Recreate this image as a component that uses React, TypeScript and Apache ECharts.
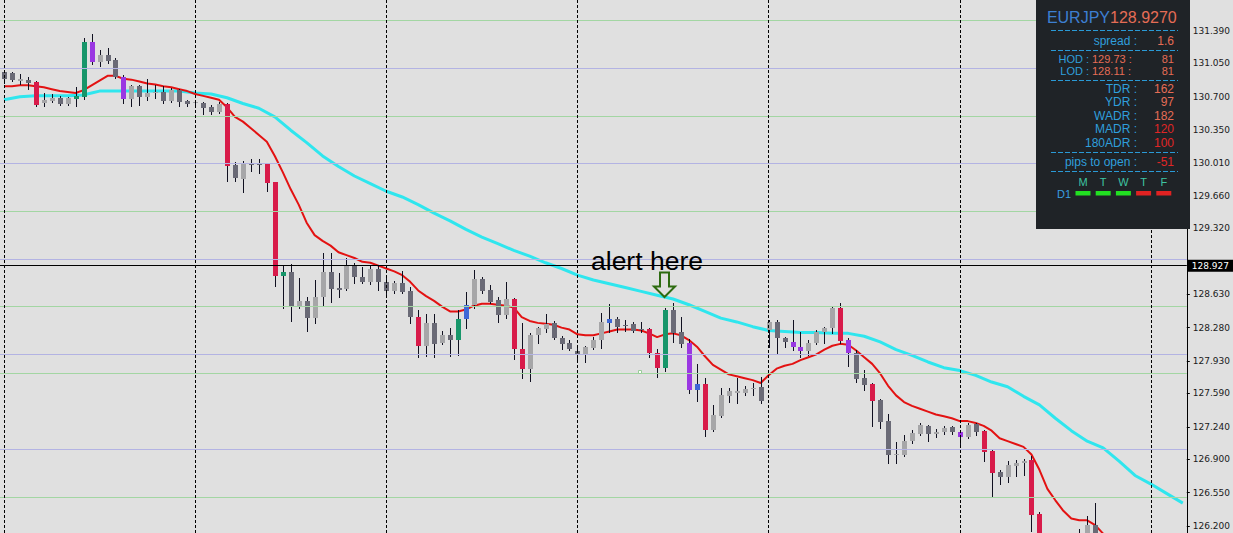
import React, { useEffect, useRef } from "react";
import * as echarts from "echarts";

// ---- data ----
// [open, close, low, high] for each H1 bar
const ohlc: number[][] = [
  [130.96, 130.89, 130.85, 130.98], [130.95, 130.88, 130.87, 130.96], [130.87, 130.89, 130.83, 130.94], [130.88, 130.85, 130.78, 130.91],
  [130.86, 130.61, 130.60, 130.87], [130.64, 130.67, 130.60, 130.74], [130.66, 130.69, 130.65, 130.73], [130.69, 130.62, 130.61, 130.71],
  [130.62, 130.69, 130.61, 130.70], [130.68, 130.71, 130.60, 130.80], [130.70, 131.27, 130.68, 131.32], [131.27, 131.07, 131.04, 131.36],
  [131.06, 131.14, 131.02, 131.19], [131.14, 131.08, 131.05, 131.21], [131.09, 130.91, 130.90, 131.11], [130.91, 130.68, 130.63, 130.93],
  [130.68, 130.81, 130.60, 130.82], [130.81, 130.70, 130.61, 130.82], [130.70, 130.74, 130.67, 130.89], [130.74, 130.75, 130.69, 130.82],
  [130.75, 130.66, 130.64, 130.81], [130.66, 130.77, 130.65, 130.79], [130.77, 130.65, 130.60, 130.78], [130.66, 130.62, 130.60, 130.67],
  [130.64, 130.65, 130.60, 130.67], [130.64, 130.58, 130.52, 130.65], [130.59, 130.54, 130.52, 130.61], [130.54, 130.62, 130.53, 130.65],
  [130.62, 129.97, 129.82, 130.64], [129.99, 129.85, 129.82, 130.02], [129.84, 130.01, 129.70, 130.03], [130.00, 129.99, 129.92, 130.05],
  [130.01, 129.99, 129.90, 130.05], [130.00, 129.80, 129.71, 130.01], [129.81, 128.82, 128.72, 129.81], [128.82, 128.86, 128.49, 128.94],
  [128.86, 128.51, 128.35, 128.95], [128.51, 128.56, 128.49, 128.80], [128.56, 128.38, 128.24, 128.60], [128.38, 128.60, 128.33, 128.78],
  [128.60, 128.86, 128.51, 129.06], [128.86, 128.69, 128.55, 129.06], [128.70, 128.67, 128.60, 128.85], [128.69, 128.93, 128.67, 129.01],
  [128.93, 128.81, 128.75, 128.96], [128.81, 128.76, 128.75, 128.92], [128.76, 128.90, 128.74, 128.94], [128.90, 128.76, 128.67, 128.94],
  [128.76, 128.66, 128.60, 128.81], [128.66, 128.75, 128.64, 128.77], [128.75, 128.65, 128.64, 128.87], [128.66, 128.39, 128.33, 128.71],
  [128.39, 128.09, 127.97, 128.47], [128.09, 128.33, 127.98, 128.42], [128.33, 128.11, 127.97, 128.42], [128.12, 128.20, 128.11, 128.24],
  [128.20, 128.15, 127.98, 128.28], [128.15, 128.37, 127.99, 128.47], [128.37, 128.52, 128.28, 128.65], [128.52, 128.79, 128.49, 128.88],
  [128.79, 128.66, 128.64, 128.81], [128.67, 128.55, 128.54, 128.73], [128.57, 128.41, 128.34, 128.60], [128.41, 128.58, 128.38, 128.76],
  [128.58, 128.06, 127.95, 128.59], [128.06, 127.85, 127.75, 128.33], [127.85, 128.20, 127.72, 128.22], [128.20, 128.28, 128.12, 128.29],
  [128.27, 128.32, 128.23, 128.42], [128.33, 128.17, 128.16, 128.35], [128.17, 128.11, 128.06, 128.19], [128.12, 128.06, 128.05, 128.15],
  [128.03, 128.00, 127.94, 128.08], [128.00, 128.08, 127.92, 128.09], [128.07, 128.15, 128.06, 128.18], [128.15, 128.34, 128.07, 128.43],
  [128.33, 128.37, 128.23, 128.53], [128.37, 128.29, 128.23, 128.39], [128.31, 128.30, 128.25, 128.36], [128.32, 128.25, 128.23, 128.34],
  [128.27, 128.26, 128.23, 128.34], [128.27, 128.01, 127.97, 128.28], [128.01, 127.86, 127.76, 128.06], [127.86, 128.47, 127.83, 128.49],
  [128.47, 128.22, 128.13, 128.54], [128.23, 128.11, 128.08, 128.39], [128.12, 127.63, 127.60, 128.16], [127.63, 127.69, 127.51, 127.90],
  [127.69, 127.21, 127.14, 127.75], [127.21, 127.36, 127.20, 127.47], [127.35, 127.57, 127.34, 127.65], [127.56, 127.62, 127.50, 127.65],
  [127.60, 127.62, 127.49, 127.75], [127.59, 127.64, 127.57, 127.67], [127.64, 127.65, 127.57, 127.70], [127.66, 127.51, 127.49, 127.76],
  [128.26, 128.34, 128.08, 128.36], [128.34, 128.17, 128.01, 128.36], [128.17, 128.13, 128.08, 128.18], [128.13, 128.08, 128.05, 128.36],
  [128.08, 128.03, 127.97, 128.23], [128.03, 128.12, 127.99, 128.15], [128.12, 128.23, 128.11, 128.26], [128.23, 128.28, 128.12, 128.29],
  [128.28, 128.49, 128.22, 128.50], [128.49, 128.14, 128.12, 128.54], [128.15, 128.01, 127.88, 128.17], [128.01, 127.74, 127.71, 128.05],
  [127.75, 127.68, 127.63, 127.84], [127.69, 127.51, 127.25, 127.70], [127.52, 127.29, 127.23, 127.53], [127.30, 126.94, 126.86, 127.37],
  [126.95, 126.96, 126.86, 127.08], [126.94, 127.09, 126.93, 127.15], [127.09, 127.18, 127.07, 127.21], [127.17, 127.26, 127.15, 127.28],
  [127.25, 127.17, 127.09, 127.26], [127.17, 127.19, 127.13, 127.22], [127.19, 127.23, 127.17, 127.25], [127.24, 127.19, 127.17, 127.25],
  [127.19, 127.13, 127.03, 127.21], [127.13, 127.26, 127.12, 127.28], [127.27, 127.19, 127.15, 127.28], [127.20, 126.98, 126.88, 127.21],
  [126.99, 126.76, 126.50, 127.01], [126.77, 126.71, 126.64, 126.79], [126.71, 126.84, 126.66, 126.88], [126.83, 126.86, 126.72, 126.89],
  [126.86, 126.88, 126.73, 126.90], [126.89, 126.32, 126.15, 126.93], [126.33, 125.84, 125.80, 126.35], [125.84, 125.90, 125.75, 125.98],
  [125.90, 125.86, 125.78, 126.00], [125.86, 125.93, 125.80, 126.05], [125.93, 125.98, 125.85, 126.08], [125.98, 126.06, 125.95, 126.17],
  [126.06, 126.21, 126.00, 126.30], [126.21, 126.05, 126.00, 126.44],
];

// bar indices highlighted in special colours
const crimsonBars = [4, 28, 33, 34, 52, 64, 65, 81, 82, 88, 105, 109, 123, 124, 129, 130];
const greenBars = [9, 10, 35, 57, 83];
const purpleBars = [11, 15, 86, 99, 100, 106, 120];
const blueBars = [58, 76, 87];

// fast moving average (red), one value per bar
const redMA = [
  130.81, 130.81, 130.82, 130.82, 130.81, 130.80, 130.78, 130.76, 130.75, 130.74, 130.77, 130.82, 130.87, 130.92, 130.92, 130.89,
  130.88, 130.86, 130.84, 130.83, 130.81, 130.80, 130.78, 130.76, 130.73, 130.71, 130.69, 130.67, 130.59, 130.49, 130.44, 130.37,
  130.30, 130.23, 130.08, 129.91, 129.73, 129.57, 129.38, 129.25, 129.19, 129.14, 129.07, 129.04, 129.01, 128.97, 128.96, 128.93,
  128.90, 128.87, 128.83, 128.76, 128.67, 128.61, 128.56, 128.50, 128.45, 128.45, 128.47, 128.51, 128.53, 128.53, 128.52, 128.51,
  128.49, 128.39, 128.35, 128.33, 128.32, 128.31, 128.28, 128.26, 128.21, 128.20, 128.20, 128.22, 128.24, 128.26, 128.26, 128.26,
  128.25, 128.22, 128.18, 128.21, 128.22, 128.20, 128.15, 128.08, 127.98, 127.89, 127.84, 127.79, 127.77, 127.75, 127.73, 127.70,
  127.78, 127.85, 127.88, 127.90, 127.94, 127.97, 128.00, 128.05, 128.09, 128.11, 128.10, 128.04, 127.97, 127.90, 127.80, 127.67,
  127.57, 127.50, 127.46, 127.43, 127.40, 127.37, 127.35, 127.33, 127.30, 127.30, 127.28, 127.25, 127.20, 127.12, 127.09, 127.06,
  127.03, 126.95, 126.79, 126.59, 126.47, 126.36, 126.28, 126.26, 126.26, 126.21, 126.12,
];

// slow, forward-shifted moving average (cyan): [bar index, price]
const cyanMA = [
  [0, 130.67], [2, 130.70], [4, 130.71], [6, 130.71], [8, 130.71], [10, 130.72], [11, 130.74], [12, 130.76], [14, 130.76],
  [16, 130.76], [18, 130.76], [20, 130.76], [22, 130.76], [24, 130.74], [26, 130.73], [28, 130.69], [30, 130.63], [32, 130.58],
  [34, 130.49], [36, 130.35], [38, 130.22], [40, 130.08], [42, 129.97], [44, 129.87], [46, 129.79], [48, 129.71], [50, 129.65],
  [52, 129.57], [54, 129.48], [56, 129.40], [58, 129.31], [60, 129.23], [62, 129.16], [64, 129.09], [66, 129.03], [68, 128.96],
  [70, 128.90], [72, 128.83], [74, 128.78], [76, 128.74], [78, 128.70], [80, 128.66], [82, 128.62], [84, 128.58], [86, 128.52],
  [88, 128.45], [90, 128.38], [92, 128.34], [94, 128.29], [96, 128.25], [98, 128.24], [100, 128.23], [102, 128.23], [104, 128.22],
  [106, 128.22], [108, 128.19], [110, 128.13], [112, 128.05], [114, 127.99], [116, 127.92], [118, 127.86], [120, 127.83], [122, 127.78],
  [124, 127.71], [126, 127.66], [128, 127.56], [130, 127.47], [132, 127.33], [134, 127.20], [136, 127.09], [138, 127.02], [140, 126.88],
  [142, 126.73], [144, 126.64], [146, 126.54], [148, 126.44],
];

const barCount = 149;
const categories = Array.from({ length: barCount }, (_, i) => `bar${i}`);
const daySeparators = [0, 24, 48, 72, 96, 120, 144];
const greenLevels = [131.5, 130.5, 129.5, 128.5, 127.8, 126.5];
const lavenderLevels = [131.0, 130.0, 129.0, 128.0, 127.0];
const yTicks = [126.2, 126.55, 126.9, 127.24, 127.59, 127.93, 128.28, 128.63, 129.32, 129.66, 130.01, 130.35, 130.7, 131.05, 131.39];
const currentPrice = 128.927;

// info panel
const symbolName = "EURJPY";
const bidText = "128.9270";
const spreadValue = "1.6";
const hodLod = [["HOD :", "129.73 :", "81"], ["LOD :", "128.11 :", "81"]];
const rangeLabels = ["TDR :", "YDR :", "WADR :", "MADR :", "180ADR :"];
const rangeValues = ["162", "97", "182", "120", "100"];
const rangeHot = [false, false, false, true, true];
const pipsToOpen = "-51";
const weekDays = ["M", "T", "W", "T", "F"];
const weekUp = [true, true, true, false, false];

const CRIMSON = "#d81b4a";
const GREEN = "#17966a";
const PURPLE = "#9a37e2";
const BLUE = "#3f68d6";
const LIGHT = "#a6a6a8";
const DARK = "#6a6a76";
const WICK = "#101020";

function barColor(i: number, o: number, c: number) {
  if (crimsonBars.includes(i)) return CRIMSON;
  if (greenBars.includes(i)) return GREEN;
  if (purpleBars.includes(i)) return PURPLE;
  if (blueBars.includes(i)) return BLUE;
  return c >= o ? LIGHT : DARK;
}

export default function App() {
  const ref = useRef<HTMLDivElement>(null);
  useEffect(() => {
    document.body.style.margin = "0";
    const chart = echarts.init(ref.current!, null, { renderer: "svg" });

    const PANEL_BLUE = "#2f9fdc";
    const CORAL = "#e56d56";
    const HOT = "#e02626";
    const font12 = "12px 'Liberation Sans', Arial, sans-serif";
    const font11 = "11px 'Liberation Sans', Arial, sans-serif";

    const panel: any[] = [
      { type: "rect", shape: { x: 1036, y: 0, width: 154, height: 229 }, style: { fill: "#1f2327" } },
      { type: "text", style: { text: symbolName, x: 1110, y: 17, align: "right", verticalAlign: "middle", fill: "#3d7fd2", font: "16px 'Liberation Sans', Arial, sans-serif" } },
      { type: "text", style: { text: bidText, x: 1110, y: 17, align: "left", verticalAlign: "middle", fill: CORAL, font: "16px 'Liberation Sans', Arial, sans-serif" } },
    ];
    [30.5, 50.5, 80.5, 152.5, 171.5].forEach((y) =>
      panel.push({ type: "line", shape: { x1: 1051, y1: y, x2: 1178, y2: y }, style: { stroke: "#2a9ad6", lineWidth: 1, lineDash: [5, 2] } })
    );
    panel.push({ type: "text", style: { text: "spread :", x: 1137, y: 40.5, align: "right", verticalAlign: "middle", fill: PANEL_BLUE, font: font12 } });
    panel.push({ type: "text", style: { text: spreadValue, x: 1174, y: 40.5, align: "right", verticalAlign: "middle", fill: CORAL, font: font12 } });
    hodLod.forEach((row, r) => {
      const y = 58.5 + r * 12.5;
      panel.push({ type: "text", style: { text: row[0], x: 1089, y, align: "right", verticalAlign: "middle", fill: PANEL_BLUE, font: font11 } });
      panel.push({ type: "text", style: { text: row[1], x: 1092, y, align: "left", verticalAlign: "middle", fill: CORAL, font: font11 } });
      panel.push({ type: "text", style: { text: row[2], x: 1174, y, align: "right", verticalAlign: "middle", fill: CORAL, font: font11 } });
    });
    rangeLabels.forEach((lab, r) => {
      const y = 89 + r * 13.4;
      panel.push({ type: "text", style: { text: lab, x: 1137, y, align: "right", verticalAlign: "middle", fill: PANEL_BLUE, font: font12 } });
      panel.push({ type: "text", style: { text: rangeValues[r], x: 1174, y, align: "right", verticalAlign: "middle", fill: rangeHot[r] ? HOT : CORAL, font: font12 } });
    });
    panel.push({ type: "text", style: { text: "pips to open :", x: 1137, y: 162, align: "right", verticalAlign: "middle", fill: PANEL_BLUE, font: font12 } });
    panel.push({ type: "text", style: { text: pipsToOpen, x: 1174, y: 162, align: "right", verticalAlign: "middle", fill: HOT, font: font12 } });
    weekDays.forEach((d, i) => {
      const cx = 1083 + i * 20.2;
      panel.push({ type: "text", style: { text: d, x: cx, y: 181.5, align: "center", verticalAlign: "middle", fill: "#3ec4a2", font: font11 } });
      panel.push({ type: "rect", shape: { x: cx - 7.5, y: 191, width: 15, height: 4.5 }, style: { fill: weekUp[i] ? "#22e022" : "#e02222" } });
    });
    panel.push({ type: "text", style: { text: "D1", x: 1064, y: 193.5, align: "center", verticalAlign: "middle", fill: "#3a9fe0", font: font11 } });

    const annotations: any[] = [
      { type: "text", style: { text: "alert here", x: 591, y: 260.5, align: "left", verticalAlign: "middle", fill: "#000", font: "26.5px 'Liberation Sans', Arial, sans-serif" } },
      {
        type: "polygon",
        shape: { points: [[660, 272.5], [669, 272.5], [669, 286.5], [675, 286.5], [664.5, 297], [654, 286.5], [660, 286.5]] },
        style: { fill: "rgba(0,0,0,0)", stroke: "#2d6b10", lineWidth: 2 },
      },
      { type: "rect", shape: { x: 638.5, y: 370.5, width: 3, height: 3 }, style: { fill: "#fff", stroke: "#9c9", lineWidth: 1 } },
    ];

    const levelLines = [
      ...greenLevels.map((v) => ({ yAxis: v, lineStyle: { color: "#a3d6a3", width: 1, type: "solid" } })),
      ...lavenderLevels.map((v) => ({ yAxis: v, lineStyle: { color: "#b3b3e3", width: 1, type: "solid" } })),
      ...daySeparators.map((k) => ({ xAxis: k, lineStyle: { color: "#000", width: 1, type: [3, 2] } })),
    ];

    const graphicElements = [...annotations, ...panel].map((e) => ({ ...e, z: 100, silent: true }));

    const option: any = {
      animation: false,
      backgroundColor: "#e0e0e0",
      grid: { left: -4, right: 43, top: 0, bottom: 0, containLabel: false },
      xAxis: { type: "category", data: categories, show: false, boundaryGap: true },
      yAxis: {
        type: "value",
        position: "right",
        min: 126.127,
        max: 131.715,
        splitLine: { show: false },
        axisLine: { show: true, lineStyle: { color: "#000", width: 1 } },
        axisTick: { show: true, length: 3, customValues: yTicks, lineStyle: { color: "#000" } },
        axisLabel: {
          customValues: yTicks,
          formatter: (v: number) => v.toFixed(3),
          color: "#1a1a1a",
          fontSize: 9,
          fontFamily: "'DejaVu Sans', sans-serif",
          margin: 6,
        },
      },
      graphic: { elements: graphicElements },
      series: [
        {
          type: "line",
          data: [],
          z: 1,
          silent: true,
          markLine: { silent: true, symbol: ["none", "none"], label: { show: false }, animation: false, data: levelLines },
        },
        {
          type: "line",
          data: [],
          z: 1,
          silent: true,
          markLine: {
            silent: true,
            symbol: ["none", "none"],
            animation: false,
            data: [
              {
                yAxis: currentPrice,
                lineStyle: { color: "#000", width: 1, type: "solid" },
                label: {
                  show: true,
                  position: "end",
                  formatter: currentPrice.toFixed(3),
                  color: "#fff",
                  backgroundColor: "#000",
                  padding: [2, 4, 1, 4],
                  fontSize: 9,
                  fontFamily: "'DejaVu Sans', sans-serif",
                  distance: 1,
                },
              },
            ],
          },
        },
        {
          type: "line",
          data: cyanMA,
          symbol: "none",
          z: 2,
          silent: true,
          lineStyle: { color: "#2fe6ee", width: 3 },
        },
        {
          type: "line",
          data: redMA,
          symbol: "none",
          z: 3,
          silent: true,
          lineStyle: { color: "#e31212", width: 2 },
        },
        {
          type: "custom",
          z: 4,
          clip: true,
          silent: true,
          encode: { x: 0, y: [1, 2, 3, 4] },
          data: ohlc.map((d, i) => [i, d[0], d[1], d[2], d[3]]),
          renderItem: (_params: any, api: any) => {
            const i = api.value(0);
            const o = api.value(1);
            const c = api.value(2);
            const l = api.value(3);
            const h = api.value(4);
            const po = api.coord([i, o]);
            const pc = api.coord([i, c]);
            const pl = api.coord([i, l]);
            const ph = api.coord([i, h]);
            const cx = Math.round(po[0]);
            const top = Math.round(Math.min(po[1], pc[1]));
            const bot = Math.round(Math.max(po[1], pc[1]));
            return {
              type: "group",
              children: [
                {
                  type: "line",
                  shape: { x1: cx + 0.5, y1: Math.round(ph[1]), x2: cx + 0.5, y2: Math.round(pl[1]) + 1 },
                  style: { stroke: WICK, lineWidth: 1 },
                },
                {
                  type: "rect",
                  shape: { x: cx - 2, y: top, width: 5, height: Math.max(1, bot - top) },
                  style: { fill: barColor(i, o, c) },
                },
              ],
            };
          },
        },
      ],
    };
    chart.setOption(option);
    return () => chart.dispose();
  }, []);
  return (
    <div
      ref={ref}
      style={{ position: "absolute", left: 0, top: 0, width: 1233, height: 533, background: "#e0e0e0" }}
    />
  );
}
